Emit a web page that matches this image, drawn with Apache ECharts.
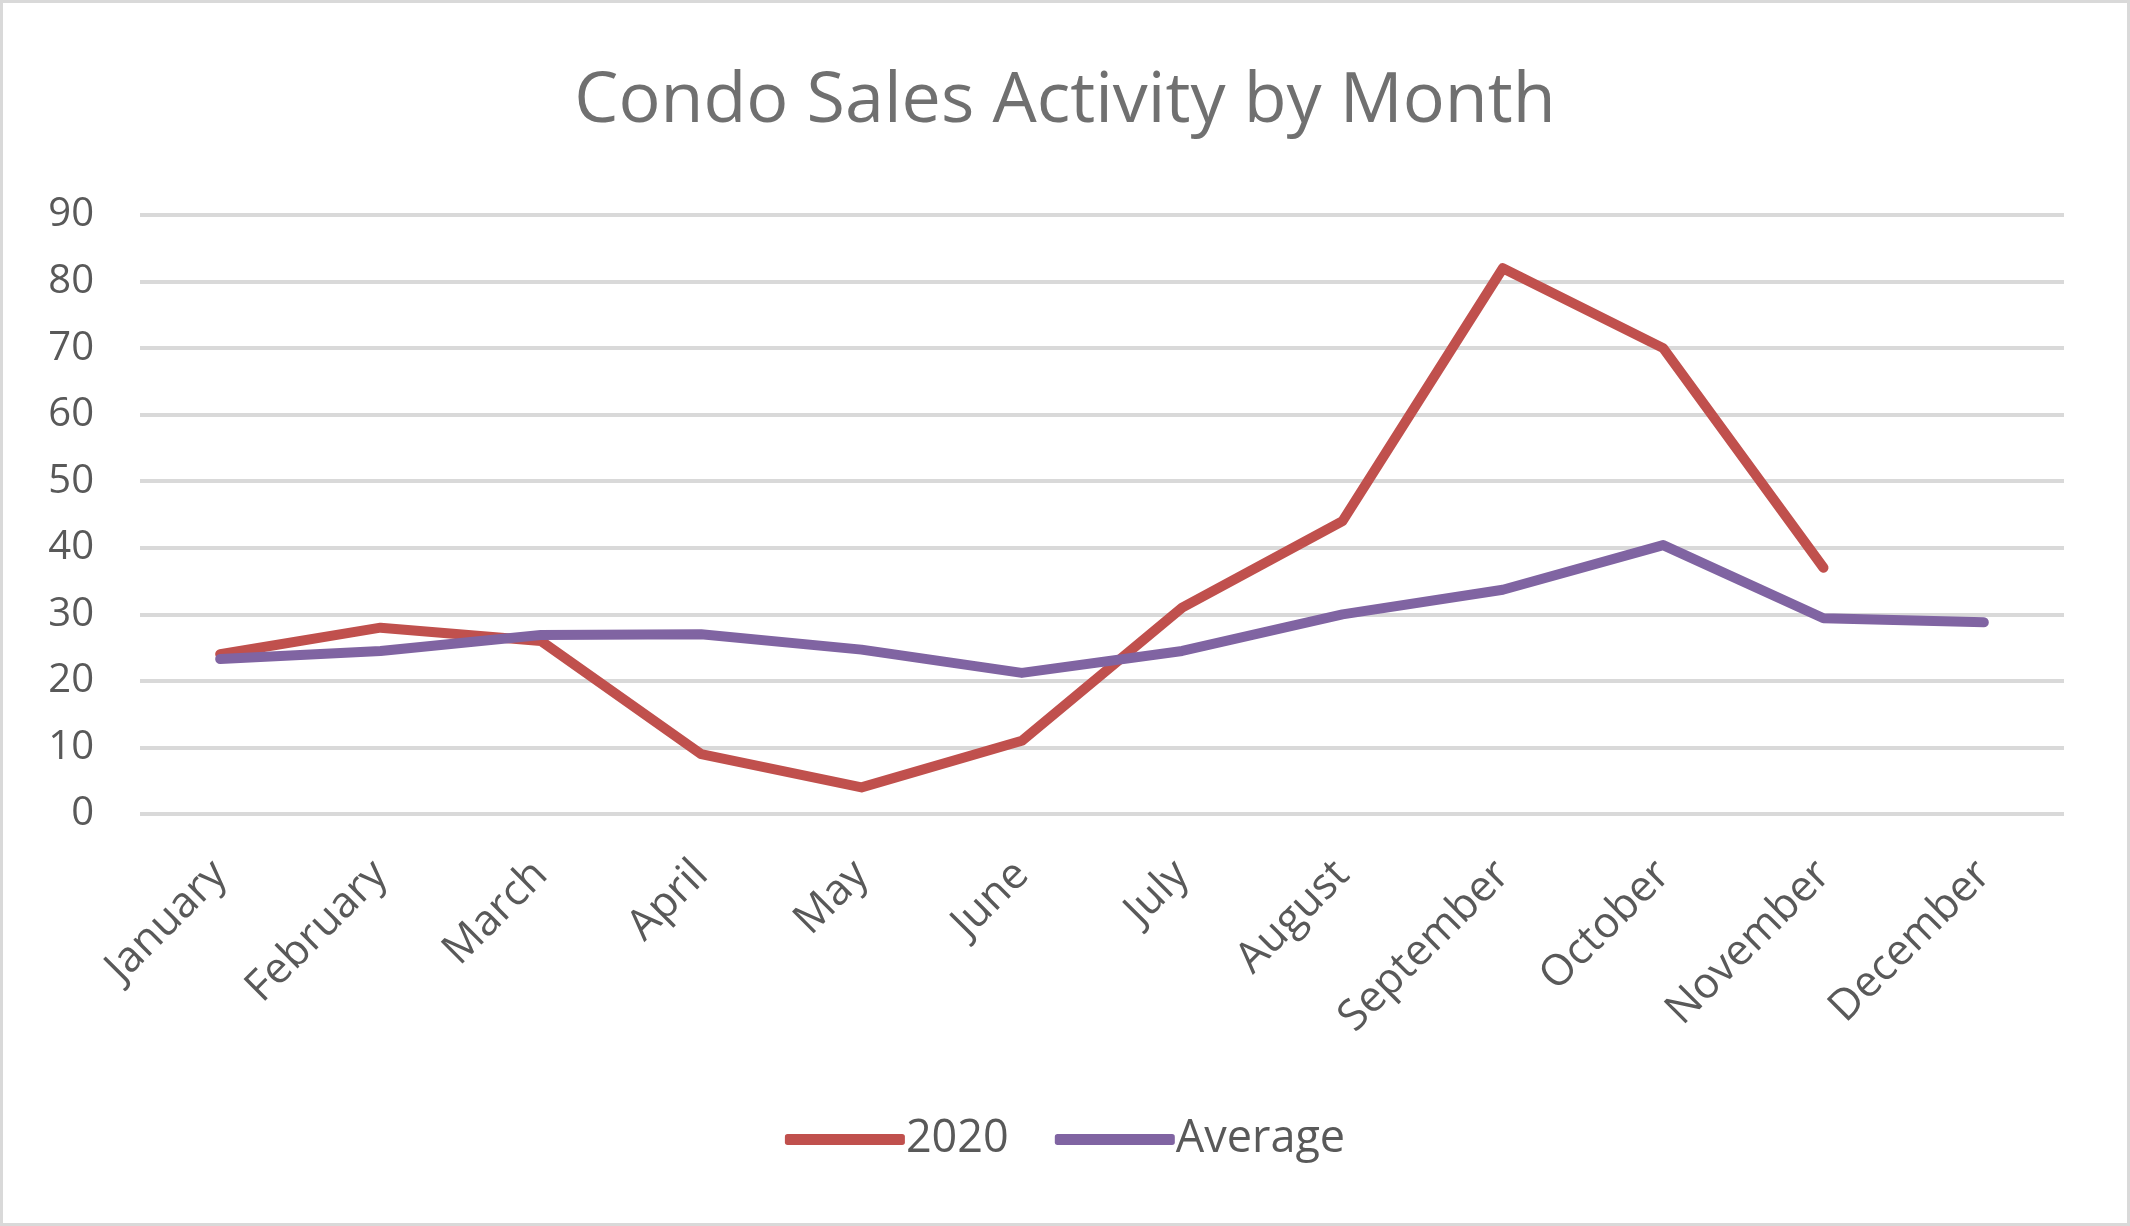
<!DOCTYPE html>
<html>
<head>
<meta charset="utf-8">
<script src="https://cdn.jsdelivr.net/npm/echarts@6/dist/echarts.min.js"></script>
<style>
  html, body { margin: 0; padding: 0; background: #fff; }
  #chart { width: 2130px; height: 1226px; box-sizing: border-box; border: 3px solid #d9d9d9; }
</style>
</head>
<body>
<div id="chart"></div>
<script>
const months = ['January', 'February', 'March', 'April', 'May', 'June', 'July', 'August', 'September', 'October', 'November', 'December'];
const sales2020 = [24, 28, 26, 9, 4, 11, 31, 44, 82, 70, 37, null];
const average = [23.3, 24.5, 26.9, 27, 24.7, 21.2, 24.5, 30, 33.7, 40.4, 29.4, 28.8];

let mycharts = echarts.init(document.getElementById('chart'));
const font = 'Open Sans';
mycharts.setOption({
  animation: false,
  title: {
    text: 'Condo Sales Activity by Month',
    left: 'center',
    top: 59,
    textStyle: { fontFamily: font, fontSize: 70, fontWeight: 'normal', color: '#707070' }
  },
  legend: {
    bottom: 56,
    left: 'center',
    itemWidth: 120,
    itemHeight: 11,
    itemGap: 46,
    icon: 'roundRect',
    textStyle: { fontFamily: font, fontSize: 45, color: '#595959', padding: [0, 0, 0, -4] },
    data: ['2020', 'Average']
  },
  grid: { left: 137, right: 63, top: 212, bottom: 409 },
  xAxis: {
    type: 'category',
    data: months,
    boundaryGap: true,
    axisLine: { show: false },
    axisTick: { show: false },
    axisLabel: { rotate: 45, margin: 54, fontFamily: font, fontSize: 43, color: '#595959', interval: 0 }
  },
  yAxis: {
    type: 'value',
    min: 0,
    max: 90,
    interval: 10,
    axisLine: { show: false },
    axisTick: { show: false },
    axisLabel: { margin: 46, fontFamily: font, fontSize: 40, color: '#595959' },
    splitLine: { lineStyle: { color: '#d9d9d9', width: 4 } }
  },
  series: [
    {
      name: '2020',
      type: 'line',
      data: sales2020,
      symbol: 'none',
      color: '#c0504d',
      lineStyle: { width: 10, cap: 'round', join: 'round' }
    },
    {
      name: 'Average',
      type: 'line',
      data: average,
      symbol: 'none',
      color: '#8064a2',
      lineStyle: { width: 10, cap: 'round', join: 'round' }
    }
  ]
});
</script>
</body>
</html>
